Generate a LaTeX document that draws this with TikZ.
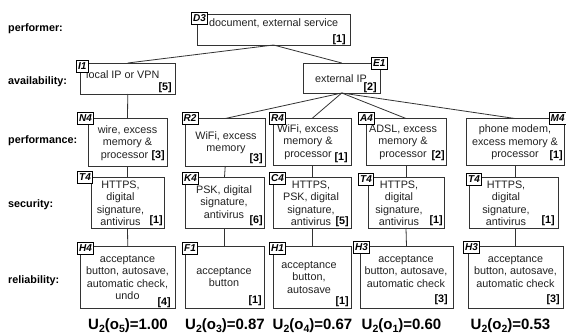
\documentclass[tikz,border=0pt]{standalone}
\usepackage{fontspec}
\setmainfont{Liberation Sans}
\usetikzlibrary{fit}
\definecolor{ln}{HTML}{333333}
\definecolor{tx}{HTML}{222222}
\tikzset{
  bx/.style={draw=ln, line width=0.8pt, inner sep=0pt, outer sep=0pt},
  tagbox/.style={draw=black, fill=white, line width=0.8pt, anchor=west,
    minimum height=12pt, inner xsep=1.8pt, inner ysep=0pt,
    font=\fontsize{10}{12}\selectfont\bfseries\itshape},
  txt/.style={align=center, inner sep=0pt, anchor=north, yshift=8.75pt,
    text=tx, font=\fontsize{10.8}{12.5}\selectfont},
  txtone/.style={inner sep=0pt, text=tx, font=\fontsize{10.8}{12.5}\selectfont},
  num/.style={inner sep=0pt, anchor=base east, text=black,
    font=\fontsize{10.8}{12.5}\selectfont\bfseries},
  lab/.style={inner sep=0pt, anchor=base west, text=black,
    font=\fontsize{10.8}{12.5}\selectfont\bfseries},
  ut/.style={inner sep=0pt, anchor=base, text=black,
    font=\fontsize{15}{18}\selectfont\bfseries},
  conn/.style={draw=ln, line width=0.8pt}
}
\newcommand\bxn[5]{\node[bx, fit={(#2,#3) (#4,#5)}] (#1) {};}
\newcommand\btxt[4]{\node[txt] (#1) at (#2,#3) {\strut #4};}
\newcommand\bnum[4]{\node[num] (#1) at (#2,#3) {[#4]};}
\newcommand\sbx[1]{\raisebox{-3pt}{\fontsize{10.5}{12}\selectfont #1}}
\begin{document}
\begin{tikzpicture}[x=1pt,y=-1pt]
\fill[white] (0,0) rectangle (566,335);
\useasboundingbox (0,0) rectangle (566,335);

% row labels
\node[lab] (lperf) at (8,31) {performer:};
\node[lab] (lavail) at (8,84) {availability:};
\node[lab] (lperfm) at (8,143) {performance:};
\node[lab] (lsec) at (8,207.5) {security:};
\node[lab] (lrel) at (8,283) {reliability:};

% boxes
\bxn{D3}{197}{14.5}{350}{45}
\bxn{I1}{80.5}{63}{175}{94}
\bxn{E1}{303.5}{63}{380}{93}
\bxn{N4}{88}{118.5}{167}{166}
\bxn{R2}{185.5}{118.5}{265}{166}
\bxn{R4}{273}{118.5}{351}{165}
\bxn{A4}{366}{118.5}{446}{165}
\bxn{M4}{466}{118.5}{564}{165}
\bxn{T4a}{91}{177}{164}{228}
\bxn{K4}{185}{177}{264}{228}
\bxn{C4}{273}{177}{351}{228}
\bxn{T4b}{368}{177}{444}{228}
\bxn{T4c}{469}{177}{558}{228}
\bxn{H4}{80.5}{246}{175}{308}
\bxn{F1}{185}{246}{264}{308}
\bxn{H1}{273}{246}{351}{308}
\bxn{H3a}{360}{246}{453}{308}
\bxn{H3b}{468}{246}{563}{308}

% connectors
\draw[conn] (D3.south) -- (I1.north);
\draw[conn] (D3.south) -- (E1.north);
\draw[conn] (I1.south) -- (N4.north);
\draw[conn] (E1.south) -- (R2.north);
\draw[conn] (E1.south) -- (R4.north);
\draw[conn] (E1.south) -- (A4.north);
\draw[conn] (E1.south) -- (M4.north);
\draw[conn] (N4.south) -- (T4a.north);
\draw[conn] (R2.south) -- (K4.north);
\draw[conn] (R4.south) -- (C4.north);
\draw[conn] (A4.south) -- (T4b.north);
\draw[conn] (M4.south) -- (M4.south |- T4c.north);
\draw[conn] (T4a.south) -- (H4.north);
\draw[conn] (K4.south) -- (F1.north);
\draw[conn] (C4.south) -- (H1.north);
\draw[conn] (T4b.south) -- (H3a.north);
\draw[conn] (H3b.north |- T4c.south) -- (H3b.north);

% texts
\node[txtone, anchor=base west] (D3x) at (209,26) {document, external service};
\node[txtone, anchor=base west] (I1x) at (86,78) {local IP or VPN};
\node[txtone, anchor=base] (E1x) at (341,82) {external IP};
\btxt{N4x}{127.5}{133}{wire, excess\\memory \&\\processor\makebox[6pt]{}}
\btxt{R2x}{226}{139}{WiFi, excess\\memory}
\btxt{R4x}{308}{132}{WiFi, excess\\memory \&\\processor}
\btxt{A4x}{403}{132}{ADSL, excess\\memory \&\\processor}
\btxt{M4x}{515}{132.5}{phone modem,\\excess memory \&\\processor}
\btxt{T4ax}{120.5}{188}{HTTPS,\\digital\\signature,\\antivirus}
\btxt{K4x}{224}{193}{PSK, digital\\signature,\\antivirus}
\btxt{C4x}{311}{188}{HTTPS,\\PSK, digital\\signature,\\antivirus}
\btxt{T4bx}{399}{188}{HTTPS,\\digital\\signature,\\antivirus}
\btxt{T4cx}{506}{188}{HTTPS,\\digital\\signature,\\antivirus}
\btxt{H4x}{127.5}{262}{acceptance\\button, autosave,\\automatic check,\\undo}
\btxt{F1x}{224}{274}{acceptance\\button}
\btxt{H1x}{309}{268}{acceptance\\button,\\autosave}
\btxt{H3ax}{406}{262}{acceptance\\button, autosave,\\automatic check}
\btxt{H3bx}{515.5}{262}{acceptance\\button, autosave,\\automatic check}

% bracket numbers
\bnum{D3n}{346}{42}{1}
\bnum{I1n}{172}{90.5}{5}
\bnum{E1n}{377}{90}{2}
\bnum{N4n}{165}{158}{3}
\bnum{R2n}{263}{161}{3}
\bnum{R4n}{348}{160}{1}
\bnum{A4n}{445}{158}{2}
\bnum{M4n}{563}{158}{1}
\bnum{T4an}{163}{223}{1}
\bnum{K4n}{263}{223}{6}
\bnum{C4n}{349}{224}{5}
\bnum{T4bn}{443}{223}{1}
\bnum{T4cn}{555}{223}{1}
\bnum{H4n}{171}{305}{4}
\bnum{F1n}{262}{303}{1}
\bnum{H1n}{349}{304}{1}
\bnum{H3an}{448}{302}{3}
\bnum{H3bn}{560}{302}{3}

% tags
\node[tagbox] (D3t) at (191,18) {D3};
\node[tagbox] (I1t) at (76,66.5) {I1};
\node[tagbox] (E1t) at (371,63.5) {E1};
\node[tagbox] (N4t) at (77,118.5) {N4};
\node[tagbox] (R2t) at (181.5,118) {R2};
\node[tagbox] (R4t) at (269,118) {R4};
\node[tagbox] (A4t) at (358,118) {A4};
\node[tagbox] (M4t) at (548.5,118) {M4};
\node[tagbox] (T4at) at (77,177.5) {T4};
\node[tagbox] (K4t) at (182,178) {K4};
\node[tagbox] (C4t) at (269,178) {C4};
\node[tagbox] (T4bt) at (358,179) {T4};
\node[tagbox] (T4ct) at (466,179) {T4};
\node[tagbox] (H4t) at (77,248) {H4};
\node[tagbox] (F1t) at (182,248) {F1};
\node[tagbox] (H1t) at (269,248) {H1};
\node[tagbox] (H3at) at (353,247.5) {H3};
\node[tagbox] (H3bt) at (463,247.5) {H3};

% utilities
\node[ut] (u5) at (128,329.5) {U\sbx{2}(o\sbx{5})=1.00};
\node[ut] (u3) at (225,329.5) {U\sbx{2}(o\sbx{3})=0.87};
\node[ut] (u4) at (312.5,329.5) {U\sbx{2}(o\sbx{4})=0.67};
\node[ut] (u1) at (401.5,329.5) {U\sbx{2}(o\sbx{1})=0.60};
\node[ut] (u2) at (510.5,329.5) {U\sbx{2}(o\sbx{2})=0.53};
\end{tikzpicture}
\end{document}
